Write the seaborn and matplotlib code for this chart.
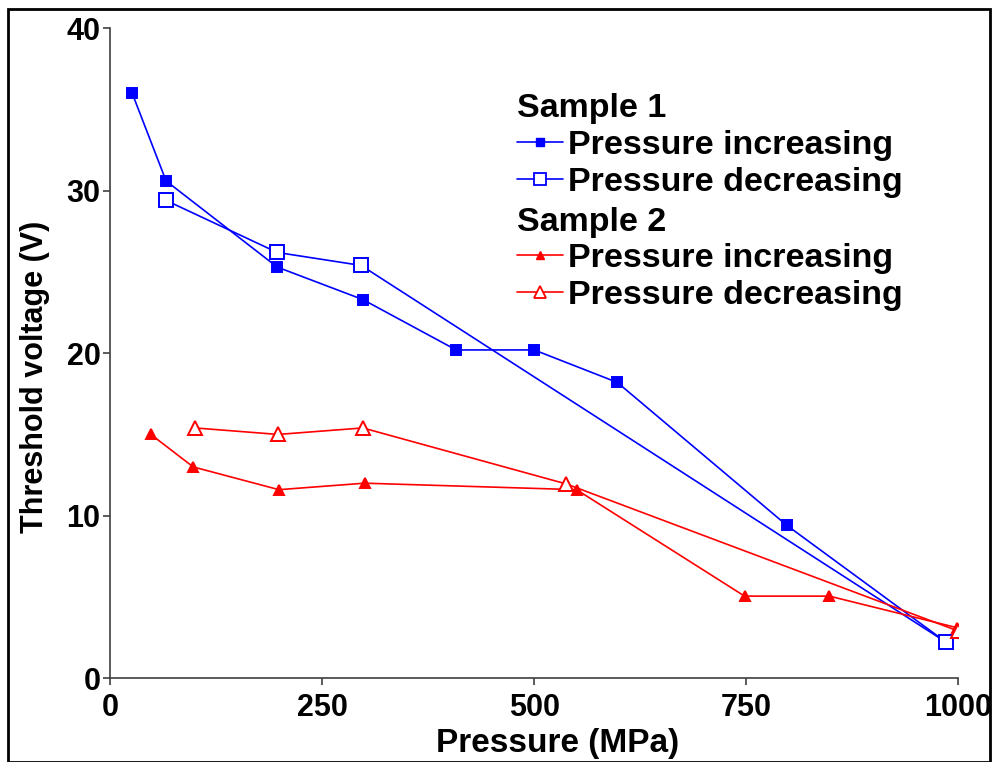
import matplotlib
matplotlib.use("Agg")
import matplotlib.pyplot as plt
import seaborn as sns
import pandas as pd
from matplotlib.lines import Line2D
from matplotlib.patches import Rectangle

# Data
s1_inc_x = [26, 66, 197, 298, 408, 500, 598, 798, 986]
s1_inc_y = [36.0, 30.6, 25.3, 23.3, 20.2, 20.2, 18.2, 9.4, 2.2]
s1_dec_x = [986, 296, 197, 66]
s1_dec_y = [2.2, 25.4, 26.2, 29.4]
s2_inc_x = [48, 98, 199, 300, 550, 748, 848, 999]
s2_inc_y = [15.0, 13.0, 11.6, 12.0, 11.6, 5.05, 5.05, 3.1]
s2_dec_x = [1000, 538, 298, 198, 100]
s2_dec_y = [2.9, 11.95, 15.4, 15.0, 15.4]

x_ticks = [0, 250, 500, 750, 1000]
y_ticks = [0, 10, 20, 30, 40]
legend_labels = ["Pressure increasing", "Pressure decreasing"]
group_titles = ["Sample 1", "Sample 2"]

sns.set_theme(style="ticks")
plt.rcParams['font.family'] = ['Liberation Sans', 'DejaVu Sans']
plt.rcParams['font.weight'] = 'bold'
plt.rcParams['text.color'] = 'black'
plt.rcParams['axes.labelcolor'] = 'black'

fig = plt.figure(figsize=(9.92, 7.62), dpi=100)
ax = fig.add_axes([0.111, 0.110, 0.855, 0.853])

blue = "#0000ff"
red = "#ff0000"

series = [
    (s1_inc_x, s1_inc_y, blue, "s", 6.5, True),
    (s1_dec_x, s1_dec_y, blue, "s", 10, False),
    (s2_inc_x, s2_inc_y, red, "^", 7.5, True),
    (s2_dec_x, s2_dec_y, red, "^", 10, False),
]
for xs, ys, c, m, ms, filled in series:
    df = pd.DataFrame({"x": xs, "y": ys})
    sns.lineplot(data=df, x="x", y="y", sort=False, estimator=None, ax=ax,
                 color=c, linewidth=1.2, marker=m, markersize=ms,
                 markerfacecolor=c if filled else "white",
                 markeredgecolor=c, markeredgewidth=1.4)

ax.set_xlim(0, 1000)
ax.set_ylim(0, 40)
ax.set_xticks(x_ticks)
ax.set_yticks(y_ticks)
ax.set_xticklabels([str(t) for t in x_ticks], fontsize=22, fontweight='bold', color='black')
ax.set_yticklabels([str(t) for t in y_ticks], fontsize=22, fontweight='bold', color='black')
ax.tick_params(direction='out', length=5, width=1.2, pad=2, color='#404040')
ax.tick_params(axis='x', pad=6)
ax.set_xlabel("Pressure (MPa)", fontsize=24, fontweight='bold')
ax.set_ylabel("Threshold voltage (V)", fontsize=22, fontweight='bold')
ax.xaxis.set_label_coords(0.527, -0.077)
ax.yaxis.set_label_coords(-0.071, 0.463)
sns.despine(ax=ax)
for sp in ['left', 'bottom']:
    ax.spines[sp].set_linewidth(1.2)
    ax.spines[sp].set_color('#404040')

def handles(c, m):
    return [Line2D([], [], color=c, linewidth=1.2, marker=m, markersize=6,
                   markerfacecolor=c, markeredgecolor=c),
            Line2D([], [], color=c, linewidth=1.2, marker=m, markersize=8.5,
                   markerfacecolor='white', markeredgecolor=c, markeredgewidth=1.3)]

common = dict(loc='upper left', bbox_transform=fig.transFigure, frameon=False, fontsize=24.5,
              title_fontproperties={'size': 24.5, 'weight': 'bold'}, alignment='left',
              handlelength=1.35, handletextpad=0.15, labelspacing=0.17,
              borderpad=0, borderaxespad=0)
leg1 = ax.legend(handles=handles(blue, "s"), labels=legend_labels, title=group_titles[0],
                 bbox_to_anchor=(0.521, 0.878), **common)
ax.add_artist(leg1)
leg2 = ax.legend(handles=handles(red, "^"), labels=legend_labels, title=group_titles[1],
                 bbox_to_anchor=(0.521, 0.729), **common)

fig.patches.append(Rectangle((0.008, 0.0), 0.99, 0.988, transform=fig.transFigure,
                             fill=False, edgecolor='black', linewidth=2))

fig.savefig("out.png", dpi=100)
